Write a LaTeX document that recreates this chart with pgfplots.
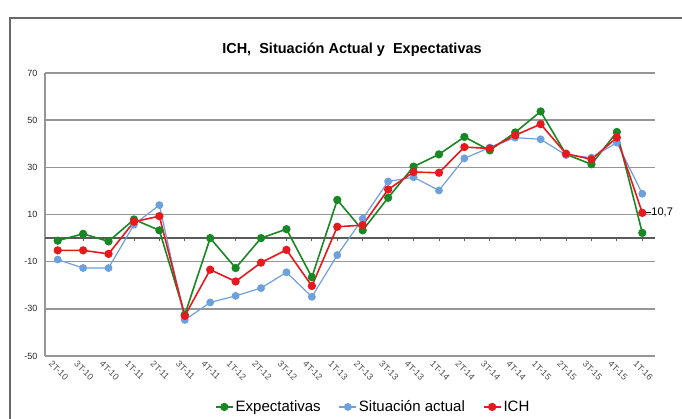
\documentclass[border=0pt]{standalone}
\usepackage{fontspec}
\setmainfont{Liberation Sans}
\usepackage{pgfplots}
\pgfplotsset{compat=1.18}

\definecolor{cexp}{RGB}{25,135,35}
\definecolor{csit}{RGB}{110,160,220}
\definecolor{cich}{RGB}{230,25,30}
\definecolor{cgrid}{RGB}{150,150,150}
\definecolor{czero}{RGB}{90,90,90}

\begin{document}
\begin{tikzpicture}
\path[use as bounding box] (0pt,0pt) rectangle (682pt,418pt);
% marco del grafico
\draw[cgrid!70!black, line width=1.2pt] (10pt,-5pt) -- (10pt,400pt) -- (690pt,400pt);
\node[font=\bfseries\fontsize{14.5}{16}\selectfont] at (352pt,368pt) {ICH,\ \ Situación Actual y\ \ Expectativas};
\begin{axis}[
    at={(45pt,62pt)}, anchor=south west,
    scale only axis,
    width=610pt, height=283pt,
    xmin=-0.5, xmax=23.5,
    ymin=-50, ymax=70,
    ytick={-50,-30,...,70},
    xtick={0,...,23},
    xticklabels={2T-10,3T-10,4T-10,1T-11,2T-11,3T-11,4T-11,1T-12,2T-12,3T-12,4T-12,1T-13,2T-13,3T-13,4T-13,1T-14,2T-14,3T-14,4T-14,1T-15,2T-15,3T-15,4T-15,1T-16},
    axis x line*=bottom, axis y line*=left,
    axis line style={-, cgrid, line width=1.3pt},
    major tick length=0pt,
    ymajorgrids,
    grid style={cgrid, line width=1.6pt},
    extra y ticks={0}, extra y tick labels={},
    extra y tick style={grid style={czero, line width=1.5pt}},
    yticklabel style={font=\fontsize{9}{10}\selectfont, xshift=-4pt, text=black!85},
    xticklabel style={font=\fontsize{9}{10}\selectfont, rotate=-45, anchor=north west, xshift=-4pt, yshift=-3pt, text=black!70},
    /pgf/number format/assume math mode=true,
    clip=false,
    legend style={at={(0.538,-0.18)}, anchor=center, draw=none, fill=none,
        legend columns=3, font=\fontsize{15}{17}\selectfont,
        /tikz/every even column/.append style={column sep=16pt}},
    legend cell align=left,
]
\addplot[forget plot, only marks, mark=|, mark size=1.8pt, czero, mark options={yshift=-1pt, line width=0.8pt}]
  coordinates {(0,0)(1,0)(2,0)(3,0)(4,0)(5,0)(6,0)(7,0)(8,0)(9,0)(10,0)(11,0)(12,0)(13,0)(14,0)(15,0)(16,0)(17,0)(18,0)(19,0)(20,0)(21,0)(22,0)(23,0)};
\addplot[cexp, line width=1.6pt, mark=*, mark size=3.3pt] coordinates {
 (0,-1.1)(1,1.8)(2,-1.4)(3,7.9)(4,3.3)(5,-32.5)(6,0)(7,-12.7)(8,0)(9,3.8)(10,-16.6)(11,16.2)
 (12,3.3)(13,17.1)(14,30.3)(15,35.5)(16,42.9)(17,37.2)(18,44.8)(19,53.7)(20,35.5)(21,31.3)(22,45.0)(23,2.2)};
\addlegendentry{Expectativas}
\addplot[csit, line width=1.2pt, mark=*, mark size=3.3pt] coordinates {
 (0,-9.1)(1,-12.7)(2,-12.7)(3,5.7)(4,14.0)(5,-34.7)(6,-27.3)(7,-24.5)(8,-21.2)(9,-14.5)(10,-24.9)(11,-7.2)
 (12,8.2)(13,24.0)(14,25.8)(15,20.2)(16,33.8)(17,38.4)(18,42.6)(19,41.9)(20,35.2)(21,34.1)(22,40.5)(23,18.8)};
\addlegendentry{Situación actual}
\addplot[cich, line width=1.6pt, mark=*, mark size=3.3pt] coordinates {
 (0,-5.2)(1,-5.2)(2,-6.7)(3,6.9)(4,9.3)(5,-33.0)(6,-13.4)(7,-18.4)(8,-10.4)(9,-5.0)(10,-20.3)(11,4.8)
 (12,5.5)(13,20.6)(14,28.0)(15,27.7)(16,38.6)(17,38.0)(18,43.6)(19,48.3)(20,35.8)(21,33.4)(22,42.6)(23,10.7)};
\addlegendentry{ICH}
\node[anchor=west, font=\fontsize{11}{12}\selectfont, inner sep=0pt] at (axis cs:23,10.7) {\rule[0.5ex]{9pt}{1.2pt}10,7};
\end{axis}
\end{tikzpicture}
\end{document}
